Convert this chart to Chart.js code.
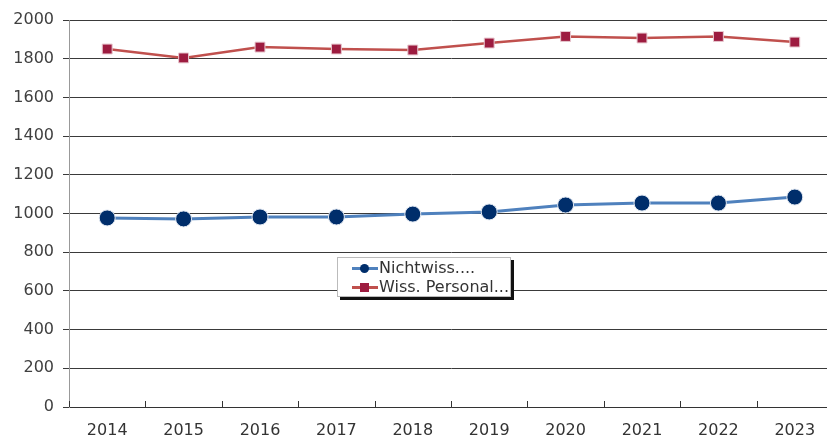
<!DOCTYPE html>
<html>
<head>
<meta charset="utf-8">
<script src="https://cdn.jsdelivr.net/npm/chart.js@4/dist/chart.umd.min.js"></script>
<style>
  html, body { margin: 0; padding: 0; background: #fff; overflow: hidden; }
  #wrap { position: relative; width: 842px; height: 439px; }
  #legend {
    position: absolute; left: 337px; top: 257px; width: 172px; height: 38px;
    background: #fff; border: 1px solid #bbb;
    box-shadow: 3px 3px 0 #111;
    font: 16px "DejaVu Sans", sans-serif; color: #333;
  }
  .row { position: absolute; left: 14px; height: 20px; line-height: 20px; white-space: nowrap; }
  .sym { position: absolute; left: 0; top: 9px; width: 26px; height: 3px; }
  .dot { position: absolute; left: 8px; top: -3px; width: 9px; height: 9px; border-radius: 50%; }
  .sq  { position: absolute; left: 8px; top: -3px; width: 9px; height: 9px; }
  .txt { position: absolute; left: 27px; top: 0; }
</style>
</head>
<body>
<div id="wrap">
  <canvas id="chart" width="842" height="439"></canvas>
  <div id="legend"></div>
</div>
<script>
// years on the x axis
const years = ['2014','2015','2016','2017','2018','2019','2020','2021','2022','2023'];
// Nichtwissenschaftliches Personal
const nichtWiss = [977, 972, 982, 982, 997, 1008, 1044, 1054, 1054, 1085];
// Wissenschaftliches Personal
const wissPers = [1850, 1804, 1860, 1850, 1845, 1881, 1915, 1907, 1915, 1886];
const seriesNames = ['Nichtwiss....', 'Wiss. Personal...'];

const blueLine = '#4f81bd', blueDot = '#002e6b';
const redLine = '#c0504d', redDot = '#9d1c40';

Chart.defaults.font.family = '"DejaVu Sans", sans-serif';
Chart.defaults.font.size = 16;
Chart.defaults.color = '#404040';

// small tick marks on the x axis, pointing up into the plot
const innerTicks = {
    id: 'innerTicks',
    afterDraw: function (chart) {
        let x = chart.scales.x, c = chart.ctx;
        let n = x.ticks.length;
        let step = (x.right - x.left) / n;
        c.save();
        c.strokeStyle = '#333';
        c.lineWidth = 1;
        c.beginPath();
        for (let i = 0; i <= n; i++) {
            let px = Math.round(x.left + i * step) + 0.5;
            c.moveTo(px, x.top);
            c.lineTo(px, x.top - 6);
        }
        c.stroke();
        c.restore();
    }
};

let ctx = document.getElementById('chart').getContext('2d');
new Chart(ctx, {
    type: 'line',
    data: {
        labels: years,
        datasets: [{
            label: seriesNames[0],
            data: nichtWiss,
            borderColor: blueLine,
            borderWidth: 3,
            pointStyle: 'circle',
            pointRadius: 8,
            pointBackgroundColor: blueDot,
            pointBorderColor: '#dfe6f0',
            pointBorderWidth: 1,
            tension: 0
        }, {
            label: seriesNames[1],
            data: wissPers,
            borderColor: redLine,
            borderWidth: 2.5,
            pointStyle: 'rect',
            pointRadius: 7,
            pointBackgroundColor: redDot,
            pointBorderColor: '#e8c8cf',
            pointBorderWidth: 1,
            tension: 0
        }]
    },
    options: {
        responsive: false,
        animation: false,
        devicePixelRatio: 1,
        layout: { padding: { top: 20, left: 0, right: 0, bottom: 0 } },
        plugins: { legend: { display: false }, tooltip: { enabled: false } },
        scales: {
            x: {
                offset: true,
                grid: { display: false, drawTicks: false },
                border: { display: true, color: '#333' },
                ticks: { padding: 14, color: '#333' },
                afterFit: function (scale) { scale.height = 32; }
            },
            y: {
                min: 0, max: 2000,
                ticks: {
                    stepSize: 200, padding: 9, color: '#404040',
                    callback: function (v) { return String(v); }
                },
                grid: { color: '#3a3a3a', tickLength: 6 },
                border: { color: '#999' },
                afterFit: function (scale) { scale.width = 69; }
            }
        }
    },
    plugins: [innerTicks]
});

// legend box in the middle of the plot
let legendHtml = '';
[[blueLine, blueDot, 'dot'], [redLine, redDot, 'sq']].forEach(function (s, i) {
    legendHtml += '<div class="row" style="top:' + (i * 19) + 'px">' +
        '<span class="sym" style="background:' + s[0] + '"><span class="' + s[2] + '" style="background:' + s[1] + '"></span></span>' +
        '<span class="txt">' + seriesNames[i] + '</span></div>';
});
document.getElementById('legend').innerHTML = legendHtml;
</script>
</body>
</html>
